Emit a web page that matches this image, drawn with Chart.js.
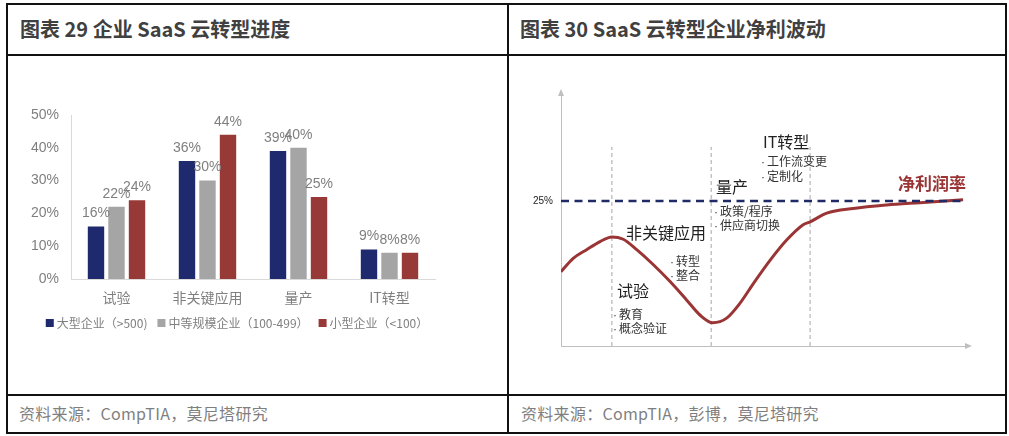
<!DOCTYPE html>
<html><head><meta charset="utf-8">
<script src="https://cdn.jsdelivr.net/npm/chart.js@4"></script>
<style>
html,body{margin:0;padding:0;background:#fff;}
body{width:1009px;height:436px;position:relative;overflow:hidden;font-family:"Noto Sans CJK SC","Noto Sans",sans-serif;}
.hl{position:absolute;background:#111;height:2px;}
.vl{position:absolute;background:#111;width:2px;}
.title{position:absolute;font-weight:bold;font-size:20px;color:#404040;line-height:1;transform:translateY(-50%);white-space:nowrap;}
.foot{position:absolute;font-size:16px;letter-spacing:0.3px;color:#7f7f7f;line-height:1;transform:translateY(-50%);white-space:nowrap;}
.ann{position:absolute;line-height:1;transform:translateY(-50%);white-space:nowrap;color:#222;}
.big{font-size:16px;}
.small{font-size:12px;color:#333;}
.dot{font-family:"Liberation Sans",sans-serif;display:inline-block;width:6px;}
canvas{position:absolute;}
</style></head>
<body>
<div class="hl" style="left:6px;top:3px;width:1001px"></div>
<div class="hl" style="left:6px;top:54px;width:1001px"></div>
<div class="hl" style="left:6px;top:394px;width:1001px"></div>
<div class="hl" style="left:6px;top:432px;width:1001px"></div>
<div class="vl" style="left:6px;top:3px;height:431px"></div>
<div class="vl" style="left:507px;top:3px;height:431px"></div>
<div class="vl" style="left:1005px;top:3px;height:431px"></div>

<div class="title" style="left:20px;top:29px">图表 29 企业 SaaS 云转型进度</div>
<div class="title" style="left:520px;top:29px">图表 30 SaaS 云转型企业净利波动</div>
<div class="foot" style="left:19px;top:413px">资料来源：CompTIA，莫尼塔研究</div>
<div class="foot" style="left:521px;top:413px">资料来源：CompTIA，彭博，莫尼塔研究</div>

<canvas id="c1" width="498" height="338" style="left:9px;top:56px"></canvas>
<canvas id="c2" width="497" height="338" style="left:509px;top:56px"></canvas>

<div class="ann big" style="left:763px;top:141px">IT转型</div>
<div class="ann small" style="left:761px;top:161px"><span class="dot">·</span>工作流变更</div>
<div class="ann small" style="left:761px;top:176px"><span class="dot">·</span>定制化</div>
<div class="ann big" style="left:716px;top:186px">量产</div>
<div class="ann small" style="left:714px;top:211px"><span class="dot">·</span>政策/程序</div>
<div class="ann small" style="left:714px;top:225px"><span class="dot">·</span>供应商切换</div>
<div class="ann big" style="left:626px;top:232px">非关键应用</div>
<div class="ann small" style="left:670px;top:261px"><span class="dot">·</span>转型</div>
<div class="ann small" style="left:670px;top:275px"><span class="dot">·</span>整合</div>
<div class="ann big" style="left:617px;top:290px">试验</div>
<div class="ann small" style="left:613px;top:314px"><span class="dot">·</span>教育</div>
<div class="ann small" style="left:613px;top:328px"><span class="dot">·</span>概念验证</div>
<div class="ann" style="left:898px;top:182px;font-size:17px;font-weight:bold;color:#9b3535">净利润率</div>

<script>
// ---- Chart 29 data ----
const categories = ['试验','非关键应用','量产','IT转型'];
const seriesNames = ['大型企业（>500)','中等规模企业（100-499）','小型企业（<100）'];
const largeEnt = [16,36,39,9];
const midEnt = [22,30,40,8];
const smallEnt = [24,44,25,8];
const yTicks = [0,10,20,30,40,50];

// ---- Chart 30 data ----
const curveX = [0,3.0,6.3,9.6,12.5,15.3,18.6,22.7,26.8,30.9,34.2,37.3,40.7,44.0,47.3,51.4,55.5,59.5,61.2,65.3,71.8,80.0,88.2,98.8];
const curveY = [12.8,15.1,16.6,18.0,18.8,18.4,16.6,14.0,11.1,7.9,5.3,4.0,4.8,7.4,10.8,14.8,18.3,20.9,21.4,22.9,23.7,24.3,24.7,25.2];
const stageBounds = [12.5,36.9,61.2];
const stageTop = 34.3;
const marginLevel = 25;
const marginLineX = [0,98.8];
const rightTicks = [25];

const GRAY_TXT = '#7f7f7f';
const barLabels = {
  id:'barLabels',
  afterDatasetsDraw(chart){
    const ctx = chart.ctx;
    ctx.save();
    ctx.font = '14px "Liberation Sans", sans-serif';
    ctx.fillStyle = GRAY_TXT;
    ctx.textAlign = 'center';
    ctx.textBaseline = 'bottom';
    chart.data.datasets.forEach((ds,i)=>{
      chart.getDatasetMeta(i).data.forEach((el,j)=>{
        ctx.fillText(ds.data[j]+'%', el.x, el.y-6);
      });
    });
    ctx.restore();
  }
};

const customLegend = {
  id:'customLegend',
  afterDraw(chart, args, opts){
    const ctx = chart.ctx;
    ctx.save();
    ctx.font = '12px "Noto Sans CJK SC"';
    ctx.textBaseline = 'middle';
    ctx.textAlign = 'left';
    const box = 8, gapBox = 3, gapItem = 10;
    const items = chart.data.datasets.map(d=>({text:d.label, color:d.backgroundColor, w:ctx.measureText(d.label).width}));
    const total = items.reduce((s,it)=>s+box+gapBox+it.w,0) + gapItem*(items.length-1);
    let x = opts.centerX - total/2;
    const y = opts.centerY;
    items.forEach(it=>{
      ctx.fillStyle = it.color;
      ctx.fillRect(x, y-box/2, box, box);
      x += box + gapBox;
      ctx.fillStyle = GRAY_TXT;
      ctx.fillText(it.text, x, y);
      x += it.w + gapItem;
    });
    ctx.restore();
  }
};

new Chart(document.getElementById('c1'), {
  type:'bar',
  data:{
    labels:categories,
    datasets:[
      {label:seriesNames[0], data:largeEnt, backgroundColor:'#1f2a6e'},
      {label:seriesNames[1], data:midEnt, backgroundColor:'#a5a5a5'},
      {label:seriesNames[2], data:smallEnt, backgroundColor:'#973937'}
    ].map(d=>Object.assign(d,{categoryPercentage:0.676, barPercentage:0.8}))
  },
  options:{
    responsive:false, animation:false,
    layout:{padding:{left:0,right:72,top:59,bottom:87}},
    scales:{
      x:{grid:{display:false,drawTicks:false}, border:{color:'#d9d9d9'},
         ticks:{color:GRAY_TXT, font:{size:14,family:'"Noto Sans CJK SC"'}, padding:10},
         afterFit(s){s.height=28;}},
      y:{min:0,max:50, grid:{display:false,drawTicks:false}, border:{color:'#d9d9d9'},
         afterBuildTicks(s){s.ticks=yTicks.map(v=>({value:v}));},
         ticks:{callback:v=>v+'%', color:GRAY_TXT, font:{size:14,family:'"Liberation Sans"'}, padding:12},
         afterFit(s){s.width=62;}}
    },
    plugins:{
      legend:{display:false},
      tooltip:{enabled:false},
      customLegend:{centerX:228, centerY:267}
    }
  },
  plugins:[barLabels, customLegend]
});

const arrows = {
  id:'arrows',
  afterDraw(chart){
    const {ctx, chartArea:a} = chart;
    ctx.save();
    ctx.fillStyle = '#bfbfbf';
    ctx.beginPath();
    ctx.moveTo(a.left, a.top-4); ctx.lineTo(a.left-3, a.top+3); ctx.lineTo(a.left+3, a.top+3); ctx.closePath(); ctx.fill();
    ctx.beginPath();
    ctx.moveTo(a.right+4, a.bottom); ctx.lineTo(a.right-3, a.bottom-3); ctx.lineTo(a.right-3, a.bottom+3); ctx.closePath(); ctx.fill();
    ctx.restore();
  }
};

const stageSets = stageBounds.map(x=>({
  data:[{x:x,y:0},{x:x,y:stageTop}], borderColor:'#a6a6a6', borderWidth:1, borderDash:[4,3], pointRadius:0, fill:false
}));

new Chart(document.getElementById('c2'), {
  type:'line',
  data:{
    datasets:[
      {data:marginLineX.map(x=>({x:x,y:marginLevel})), borderColor:'#1f2a66', borderWidth:2.5, borderDash:[8,5.5], pointRadius:0},
      {data:curveX.map((x,i)=>({x:x,y:curveY[i]})), borderColor:'#9b3535', borderWidth:3, pointRadius:0, cubicInterpolationMode:'monotone'},
      ...stageSets
    ]
  },
  options:{
    responsive:false, animation:false,
    layout:{padding:{left:0,right:38,top:37,bottom:48}},
    scales:{
      x:{type:'linear', min:0, max:100, grid:{display:false,drawTicks:false}, border:{color:'#bfbfbf'},
         ticks:{display:false}, afterFit(s){s.height=0;}},
      y:{min:0, max:43.6, grid:{display:false,drawTicks:false}, border:{color:'#bfbfbf'},
         afterBuildTicks(s){s.ticks=rightTicks.map(v=>({value:v}));},
         ticks:{callback:v=>v+'%', color:'#222', font:{size:10,family:'"Liberation Sans"'}, padding:8},
         afterFit(s){s.width=52;}}
    },
    plugins:{legend:{display:false}, tooltip:{enabled:false}}
  },
  plugins:[arrows]
});
</script>
</body></html>
